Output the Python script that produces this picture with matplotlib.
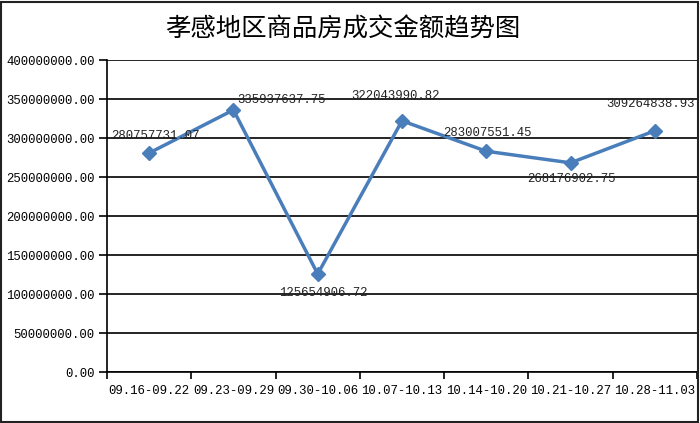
import matplotlib
matplotlib.use("Agg")
import matplotlib.pyplot as plt
from matplotlib.patches import Rectangle
from matplotlib.ticker import FixedLocator, NullFormatter

weeks = ["09.16-09.22", "09.23-09.29", "09.30-10.06", "10.07-10.13",
         "10.14-10.20", "10.21-10.27", "10.28-11.03"]
amounts = [280757731.07, 335937637.75, 125654906.72, 322043990.82,
           283007551.45, 268176902.75, 309264838.93]
yticks = [0, 50000000, 100000000, 150000000, 200000000,
          250000000, 300000000, 350000000, 400000000]

# label offsets in pixels (dx, dy)
offsets = [(6, 17), (48, 10), (6, -19), (-6, 25), (1, 18), (1, -16), (-4, 27)]

num_font = "Liberation Mono"
blue = "#4A7EBB"

fig = plt.figure(figsize=(7, 4.23), dpi=100)
fig.patches.append(Rectangle((0.002, 0.003), 0.995, 0.993, transform=fig.transFigure,
                             fill=False, edgecolor="#222222", linewidth=1.5))

ax = fig.add_axes([107 / 700, 1 - 372 / 423, 590 / 700, 312 / 423])
x = list(range(len(weeks)))
ax.plot(x, amounts, color=blue, linewidth=2.5, marker="D", markersize=7.5,
        markerfacecolor=blue, markeredgecolor=blue, zorder=3)

for xi, v, (dx, dy) in zip(x, amounts, offsets):
    ax.annotate(f"{v:.2f}", (xi, v), xytext=(dx, dy), textcoords="offset pixels",
                ha="center", va="center", fontsize=8.9, family=num_font,
                color="#222222", zorder=4)

ax.set_xlim(-0.5, len(weeks) - 0.5)
ax.set_ylim(0, 400000000)
ax.set_yticks(yticks)
ax.set_yticklabels([f"{t:.2f}" for t in yticks], family=num_font, fontsize=8.9)
ax.yaxis.grid(True, color="black", linewidth=1.2)
ax.set_axisbelow(True)

ax.set_xticks(x)
ax.set_xticklabels(weeks, family=num_font, fontsize=8.9)
ax.tick_params(axis="x", which="major", length=0, pad=9)
ax.xaxis.set_minor_locator(FixedLocator([i - 0.5 for i in range(len(weeks) + 1)]))
ax.xaxis.set_minor_formatter(NullFormatter())
ax.tick_params(axis="x", which="minor", length=5, width=1.2, direction="out")
ax.tick_params(axis="y", length=6, width=1.2, direction="out", pad=3)

for s in ["top", "right"]:
    ax.spines[s].set_visible(False)
for s in ["left", "bottom"]:
    ax.spines[s].set_linewidth(1.2)

fig.text(343 / 700, 1 - 30 / 423, "孝感地区商品房成交金额趋势图", ha="center", va="center",
         fontsize=18.3, family=["Noto Sans CJK SC", "DejaVu Sans"])

fig.savefig("out.png", dpi=100)
